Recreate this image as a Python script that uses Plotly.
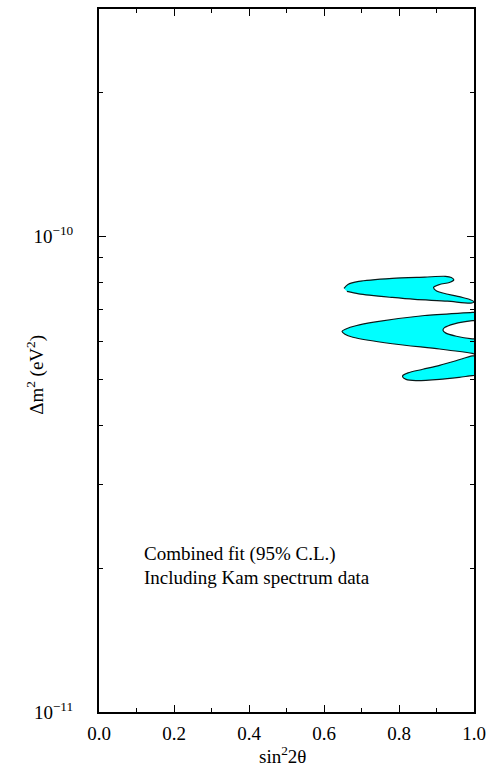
import plotly.graph_objects as go

# ---- data ----
x_ticks = [0.0, 0.2, 0.4, 0.6, 0.8, 1.0]
x_tick_labels = ["0.0", "0.2", "0.4", "0.6", "0.8", "1.0"]
x_minor = [0.1, 0.3, 0.5, 0.7, 0.9]
y_ticks = [1e-11, 1e-10]
y_tick_labels = ["10<sup>\u221211</sup>", "10<sup>\u221210</sup>"]
y_minor = [2e-11, 3e-11, 4e-11, 5e-11, 6e-11, 7e-11, 8e-11, 9e-11, 2e-10, 3e-10]

# contour islands (sin^2 2theta, dm^2 in units of 1e-11 eV^2)
island1_x = [0.6533, 0.6638, 0.6927, 0.7820, 0.8687, 0.9238, 0.9396, 0.9461, 0.9343, 0.9081,
             0.8923, 0.9002, 0.9633, 0.9900, 1.0000, 0.9920, 0.9291, 0.8424, 0.7820, 0.6927, 0.6612]
island1_y = [7.76, 7.91, 8.03, 8.15, 8.20, 8.23, 8.18, 8.09, 7.99, 7.91,
             7.80, 7.67, 7.45, 7.35, 7.28, 7.23, 7.30, 7.36, 7.43, 7.56, 7.65]

island2_x = [1.0105, 0.9955, 0.8687, 0.7373, 0.6848, 0.6585, 0.6480, 0.6559, 0.6769, 0.7820, 0.9081,
             0.9955, 1.0105, 1.0105, 0.9955, 0.9529, 0.9240, 0.9173, 0.9212, 0.9475, 0.9955, 1.0105]
island2_y = [6.93, 6.91, 6.81, 6.60, 6.48, 6.38, 6.31, 6.22, 6.13, 5.94, 5.79,
             5.67, 5.64, 6.07, 6.08, 6.16, 6.26, 6.34, 6.42, 6.54, 6.64, 6.65]

island3_x = [1.0105, 0.9955, 0.9519, 0.9081, 0.8634, 0.8240, 0.8109, 0.8096, 0.8188, 0.8450,
             0.9081, 0.9606, 0.9955, 1.0105]
island3_y = [5.60, 5.60, 5.47, 5.35, 5.25, 5.16, 5.10, 5.06, 5.00, 4.97,
             5.00, 5.05, 5.09, 5.10]

label_line1 = "Combined fit (95% C.L.)"
label_line2 = "Including Kam spectrum data"

FONT = "Liberation Serif, Times New Roman, serif"

fig = go.Figure()
for xs, ys in [(island1_x, island1_y), (island2_x, island2_y), (island3_x, island3_y)]:
    fig.add_trace(go.Scatter(
        x=xs, y=[v * 1e-11 for v in ys],
        mode="lines", fill="toself", fillcolor="#00FFFF",
        line=dict(color="#0a1a1a", width=1.2, shape="spline", smoothing=0.8),
        hoverinfo="skip", showlegend=False,
    ))

fig.update_layout(
    width=493, height=766,
    margin=dict(l=99, r=13, t=7, b=54),
    paper_bgcolor="white", plot_bgcolor="white",
    font=dict(family=FONT, size=19, color="black"),
    showlegend=False,
)

fig.update_xaxes(
    range=[0, 1], tickmode="array", tickvals=x_ticks, ticktext=x_tick_labels,
    ticks="inside", ticklen=7, tickwidth=1, tickcolor="black",
    showline=True, linewidth=2, linecolor="black", mirror="ticks",
    showgrid=False, zeroline=False, ticklabelstandoff=3,
    minor=dict(tickmode="array", tickvals=x_minor, ticks="inside", ticklen=4,
               tickwidth=1, tickcolor="black", showgrid=False),
    tickfont=dict(family=FONT, size=19, color="black"),
)
fig.update_yaxes(
    type="log", range=[-11, -9.5229], tickmode="array", tickvals=y_ticks, ticktext=y_tick_labels,
    ticks="inside", ticklen=7, tickwidth=1, tickcolor="black",
    showline=True, linewidth=2, linecolor="black", mirror="ticks",
    showgrid=False, zeroline=False, ticklabelstandoff=20,
    minor=dict(tickmode="array", tickvals=y_minor, ticks="inside", ticklen=4,
               tickwidth=1, tickcolor="black", showgrid=False),
    tickfont=dict(family=FONT, size=19, color="black"),
)

fig.add_annotation(text="sin<sup>2</sup>2\u03b8", xref="paper", yref="paper",
                   x=0.488, y=-0.061, xanchor="center", yanchor="middle",
                   showarrow=False, font=dict(family=FONT, size=19, color="black"))
fig.add_annotation(text="\u0394m<sup>2</sup> (eV<sup>2</sup>)", xref="paper", yref="paper",
                   x=-0.17, y=0.48, xanchor="center", yanchor="middle", textangle=-90,
                   showarrow=False, font=dict(family=FONT, size=19, color="black"))
fig.add_annotation(text=label_line1, xref="x", yref="y", x=0.114, y=-10.667,
                   xanchor="left", yanchor="middle", showarrow=False,
                   font=dict(family=FONT, size=19, color="black"))
fig.add_annotation(text=label_line2, xref="x", yref="y", x=0.114, y=-10.717,
                   xanchor="left", yanchor="middle", showarrow=False,
                   font=dict(family=FONT, size=19, color="black"))

fig.write_html("out.html",
               config={"displayModeBar": False, "staticPlot": True},
               post_script="document.body.style.margin='0';document.body.style.overflow='hidden';")
